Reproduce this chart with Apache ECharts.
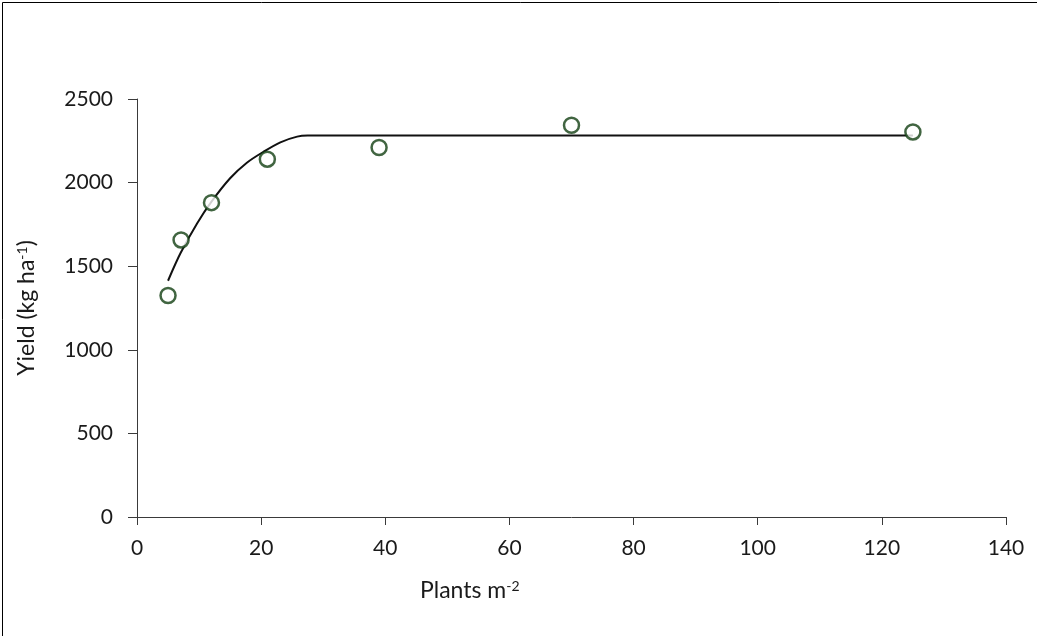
<!DOCTYPE html>
<html>
<head>
<meta charset="utf-8">
<script src="https://cdn.jsdelivr.net/npm/echarts@6/dist/echarts.min.js"></script>
<style>
html,body{margin:0;padding:0;background:#fff;}
#chart{width:1037px;height:636px;}
</style>
</head>
<body>
<div id="chart"></div>
<script>
// Observed data points (plants m-2, yield kg ha-1)
const obsX = [5, 7.1, 12, 21, 39, 70, 125];
const obsY = [1325, 1657, 1880, 2140, 2210, 2343, 2303];
// Fitted curve
const fitX = [5, 7, 9.7, 12, 15, 17.7, 20.4, 23.1, 25.8, 27.5, 125];
const fitY = [1413, 1577, 1757, 1886, 2026, 2119, 2185, 2241, 2275, 2281, 2281];
const xTicks = [0, 20, 40, 60, 80, 100, 120, 140];
const yTicks = [0, 500, 1000, 1500, 2000, 2500];

const font = 'Lato, "Open Sans", sans-serif';
const txt = '#1a1a1a';
const chart = echarts.init(document.getElementById('chart'), null, {renderer: 'canvas'});
const axisLineStyle = {color: '#3a3a3a', width: 1};
chart.setOption({
  animation: false,
  backgroundColor: '#fff',
  grid: {left: 137, right: 31, top: 99, bottom: 119, containLabel: false},
  xAxis: {
    type: 'value', min: xTicks[0], max: xTicks[xTicks.length - 1], interval: 20,
    axisLine: {show: true, lineStyle: axisLineStyle},
    axisTick: {show: true, length: 8, lineStyle: axisLineStyle},
    splitLine: {show: false},
    axisLabel: {color: txt, fontSize: 21, fontFamily: font, margin: 21, formatter: v => String(v)}
  },
  yAxis: {
    type: 'value', min: yTicks[0], max: yTicks[yTicks.length - 1], interval: 500,
    axisLine: {show: true, lineStyle: axisLineStyle},
    axisTick: {show: true, length: 9, inside: false, lineStyle: axisLineStyle},
    splitLine: {show: false},
    axisLabel: {color: txt, fontSize: 21, fontFamily: font, margin: 24, formatter: v => String(v)},
    name: '{n|Yield (kg ha}{s|-1}{n|)}',
    nameLocation: 'middle', nameGap: 98, nameRotate: 90,
    nameTextStyle: {
      rich: {
        n: {fontSize: 23, fontFamily: font, color: txt},
        s: {fontSize: 14, fontFamily: font, color: txt, verticalAlign: 'top', padding: [0, 0, 10, 0]}
      }
    }
  },
  graphic: [
    {type: 'rect', left: 0, top: 0, shape: {x: 0.5, y: 0.5, width: 1036, height: 635}, style: {fill: 'none', stroke: '#000', lineWidth: 1}, silent: true},
    {type: 'text', left: 420, top: 579, style: {
      text: '{n|Plants m}{s|-2}',
      rich: {
        n: {fontSize: 23, fontFamily: font, fill: txt},
        s: {fontSize: 14, fontFamily: font, fill: txt, verticalAlign: 'top', padding: [0, 0, 10, 0]}
      }
    }}
  ],
  series: [
    {
      type: 'line', data: fitX.map((x, i) => [x, fitY[i]]), smooth: 0.3,
      showSymbol: false, symbol: 'none',
      lineStyle: {color: '#111', width: 2}, z: 2
    },
    {
      type: 'scatter', data: obsX.map((x, i) => [x, obsY[i]]),
      symbol: 'circle', symbolSize: 15,
      itemStyle: {color: '#fff', borderColor: '#123f12', borderWidth: 2.5}, z: 3
    }
  ]
});
</script>
</body>
</html>
